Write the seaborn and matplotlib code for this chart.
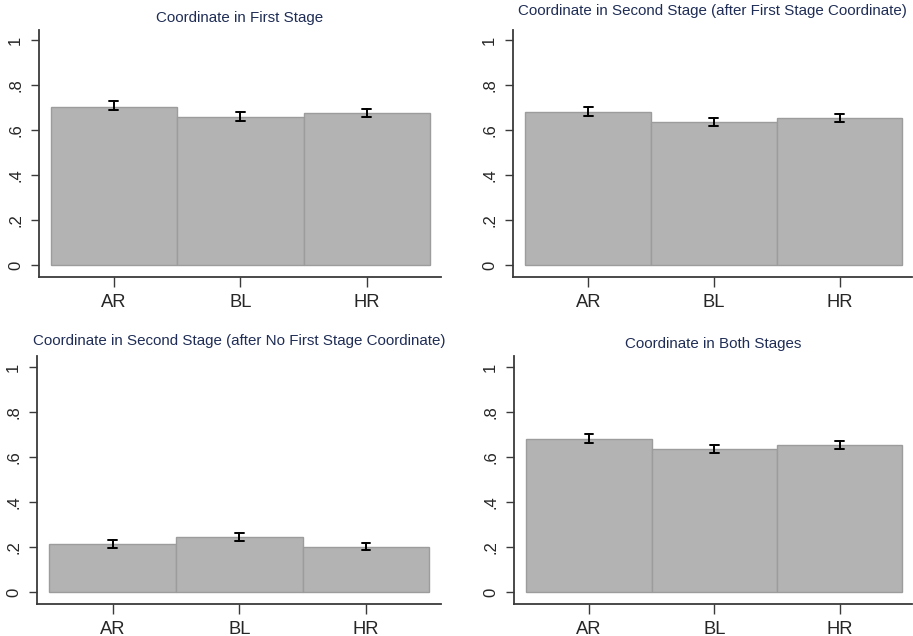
import matplotlib
matplotlib.use("Agg")
import matplotlib.pyplot as plt
import seaborn as sns
import pandas as pd
import numpy as np

sns.set_theme(style="white")
plt.rcParams['font.family'] = ['Liberation Sans', 'DejaVu Sans']

categories = ["AR", "BL", "HR"]

titles = [
    "Coordinate in First Stage",
    "Coordinate in Second Stage (after First Stage Coordinate)",
    "Coordinate in Second Stage (after No First Stage Coordinate)",
    "Coordinate in Both Stages",
]

# means and 95% CI bounds per panel
mean_first = [0.702, 0.659, 0.674]
lo_first = [0.687, 0.641, 0.659]
hi_first = [0.727, 0.680, 0.695]

mean_second_after = [0.681, 0.634, 0.652]
lo_second_after = [0.662, 0.618, 0.636]
hi_second_after = [0.700, 0.655, 0.672]

mean_second_no = [0.215, 0.244, 0.201]
lo_second_no = [0.197, 0.229, 0.188]
hi_second_no = [0.232, 0.262, 0.220]

mean_both = [0.683, 0.636, 0.653]
lo_both = [0.665, 0.620, 0.637]
hi_both = [0.703, 0.656, 0.674]

yticks = [0, 0.2, 0.4, 0.6, 0.8, 1.0]
ytick_labels = ["0", ".2", ".4", ".6", ".8", "1"]

panels = [
    (mean_first, lo_first, hi_first),
    (mean_second_after, lo_second_after, hi_second_after),
    (mean_second_no, lo_second_no, hi_second_no),
    (mean_both, lo_both, hi_both),
]

W, H = 913, 636
fig = plt.figure(figsize=(W / 100, H / 100), dpi=100)
fig.patch.set_facecolor("white")

# axes rectangles in pixels: left, right, top, bottom
rects = [
    (39, 441, 30, 277),
    (513, 912, 30, 277),
    (37, 441, 356, 604),
    (514, 912, 356, 604),
]
xlims = [(-0.592, 2.587), (-0.599, 2.577), (-0.597, 2.592), (-0.599, 2.577)]
ylims = [(-0.053, 1.044), (-0.053, 1.044), (-0.052, 1.05), (-0.052, 1.05)]
title_pads = [6.0, 10.5, 8.0, 5.5]

spine_color = "#3a3a3a"
for i, (m, lo, hi) in enumerate(panels):
    l, r, t, b = rects[i]
    ax = fig.add_axes([l / W, 1 - b / H, (r - l) / W, (b - t) / H])
    df = pd.DataFrame({
        "cat": np.repeat(categories, 3),
        "val": np.ravel(np.column_stack([lo, m, hi])),
    })
    sns.barplot(
        data=df, x="cat", y="val", order=categories, ax=ax,
        estimator="median", errorbar=lambda v: (v.min(), v.max()),
        width=1.0, color="#b3b3b3", saturation=1, edgecolor="#9c9c9c",
        linewidth=1.0, capsize=0.07,
        err_kws={"color": "black", "linewidth": 1.4},
    )
    ax.set_xlim(*xlims[i])
    ax.set_ylim(*ylims[i])
    ax.set_yticks(yticks)
    ax.set_yticklabels(ytick_labels, rotation=90, va="center", fontsize=12)
    ax.tick_params(axis="x", labelsize=13.2, length=7, width=1, color=spine_color, pad=5, direction="out", bottom=True)
    ax.tick_params(axis="y", length=6, width=1, color=spine_color, pad=5.5, direction="out", left=True)
    ax.set_xlabel("")
    ax.set_ylabel("")
    for s in ["top", "right"]:
        ax.spines[s].set_visible(False)
    for s in ["left", "bottom"]:
        ax.spines[s].set_color(spine_color)
        ax.spines[s].set_linewidth(1.3)
    ax.set_facecolor("white")
    ax.set_title(titles[i], fontsize=10.9, color="#1f2d56", pad=title_pads[i])

fig.savefig("out.png", dpi=100, facecolor="white")
